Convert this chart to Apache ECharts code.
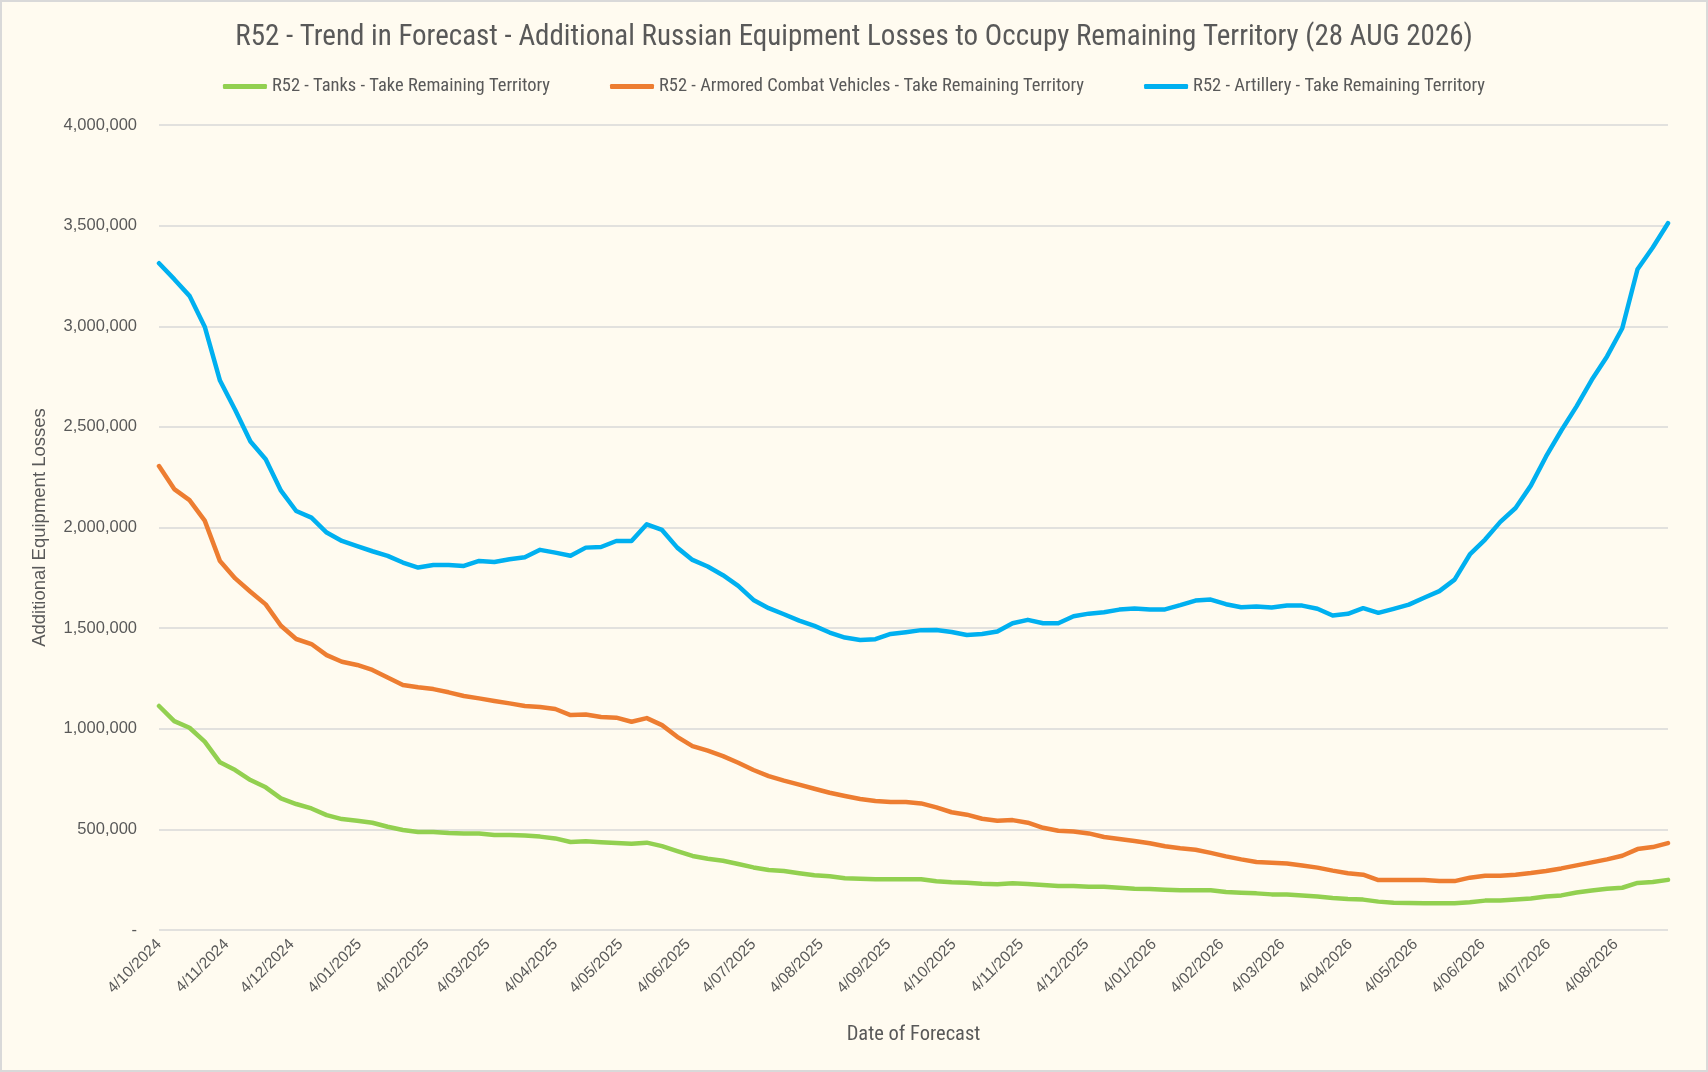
<!doctype html>
<html lang="en">
<head>
<meta charset="utf-8">
<title>R52 - Trend in Forecast</title>
<script src="https://cdn.jsdelivr.net/npm/echarts@6/dist/echarts.min.js"></script>
<style>
  html, body { margin: 0; padding: 0; background: #ffffff; }
  #main { width: 1704px; height: 1068px; border: 2px solid #d9d9d9; background: #fffbf0; }
</style>
</head>
<body>
<div id="main"></div>
<script type="text/javascript">
// weekly forecasts, first one on 4 Oct 2024, last on 28 Aug 2026
var firstForecast = '2024-10-04';
var lastForecast = '2026-08-28';

var monthLabels = ['4/10/2024', '4/11/2024', '4/12/2024', '4/01/2025', '4/02/2025', '4/03/2025',
  '4/04/2025', '4/05/2025', '4/06/2025', '4/07/2025', '4/08/2025', '4/09/2025', '4/10/2025',
  '4/11/2025', '4/12/2025', '4/01/2026', '4/02/2026', '4/03/2026', '4/04/2026', '4/05/2026',
  '4/06/2026', '4/07/2026', '4/08/2026'];

var seriesNames = ['R52 - Tanks - Take Remaining Territory',
  'R52 - Armored Combat Vehicles - Take Remaining Territory',
  'R52 - Artillery - Take Remaining Territory'];

var tanks = [1113000, 1038000, 1005000, 936000, 833000, 795000, 745000, 709000, 654000, 626000,
  604000, 571000, 551000, 543000, 533000, 513000, 497000, 487000, 487000, 482000,
  480000, 480000, 472000, 472000, 469000, 464000, 455000, 437000, 441000, 436000,
  432000, 429000, 434000, 417000, 392000, 368000, 354000, 344000, 328000, 311000,
  298000, 293000, 282000, 272000, 267000, 257000, 255000, 252000, 252000, 252000,
  252000, 242000, 237000, 235000, 230000, 227000, 232000, 229000, 224000, 219000,
  219000, 215000, 215000, 210000, 205000, 204000, 200000, 197000, 197000, 197000,
  189000, 185000, 182000, 177000, 176000, 171000, 166000, 159000, 154000, 151000,
  141000, 136000, 134000, 133000, 133000, 133000, 138000, 146000, 147000, 152000,
  157000, 166000, 172000, 186000, 196000, 205000, 210000, 234000, 239000, 249000];

var acv = [2305000, 2191000, 2136000, 2034000, 1833000, 1747000, 1681000, 1618000, 1512000, 1446000,
  1421000, 1366000, 1333000, 1317000, 1292000, 1255000, 1217000, 1206000, 1197000, 1181000,
  1163000, 1151000, 1138000, 1126000, 1113000, 1108000, 1098000, 1068000, 1071000, 1058000,
  1055000, 1035000, 1053000, 1018000, 960000, 914000, 891000, 864000, 831000, 795000,
  765000, 742000, 722000, 702000, 682000, 666000, 651000, 641000, 636000, 636000,
  629000, 609000, 585000, 573000, 553000, 543000, 546000, 533000, 508000, 493000,
  489000, 480000, 462000, 452000, 442000, 431000, 416000, 406000, 399000, 383000,
  366000, 351000, 338000, 334000, 330000, 321000, 310000, 295000, 282000, 275000,
  248000, 248000, 248000, 248000, 243000, 243000, 260000, 270000, 270000, 275000,
  283000, 293000, 306000, 321000, 336000, 351000, 369000, 402000, 412000, 432000];

var artillery = [3313000, 3234000, 3151000, 2998000, 2730000, 2584000, 2427000, 2339000, 2183000, 2082000,
  2049000, 1975000, 1933000, 1907000, 1882000, 1859000, 1826000, 1801000, 1814000, 1814000,
  1809000, 1834000, 1829000, 1842000, 1852000, 1889000, 1875000, 1860000, 1900000, 1903000,
  1933000, 1933000, 2016000, 1988000, 1900000, 1839000, 1806000, 1763000, 1710000, 1640000,
  1599000, 1569000, 1537000, 1511000, 1478000, 1453000, 1441000, 1445000, 1471000, 1480000,
  1490000, 1491000, 1481000, 1466000, 1471000, 1483000, 1524000, 1541000, 1524000, 1524000,
  1559000, 1572000, 1579000, 1592000, 1597000, 1592000, 1593000, 1614000, 1637000, 1642000,
  1619000, 1604000, 1608000, 1603000, 1612000, 1612000, 1596000, 1563000, 1571000, 1599000,
  1576000, 1596000, 1617000, 1651000, 1684000, 1741000, 1866000, 1940000, 2028000, 2097000,
  2208000, 2353000, 2482000, 2602000, 2734000, 2850000, 2990000, 3283000, 3391000, 3512000];

var colors = ['#92d050', '#ed7d31', '#00b0f0'];

// daily category axis so the month labels sit on the 4th like the Excel date axis
function fmtDay(d) {
  var m = d.getUTCMonth() + 1;
  return d.getUTCDate() + '/' + (m < 10 ? '0' + m : m) + '/' + d.getUTCFullYear();
}
var days = [];
var t0 = Date.parse(firstForecast + 'T00:00:00Z');
var t1 = Date.parse(lastForecast + 'T00:00:00Z');
for (var t = t0; t <= t1; t += 86400000) {
  days.push(fmtDay(new Date(t)));
}

function onDays(weekly) {
  var out = days.map(function () { return null; });
  weekly.forEach(function (v, i) { out[i * 7] = v; });
  return out;
}

var narrow = "'Liberation Sans Narrow', 'Roboto Condensed', 'Liberation Sans', sans-serif";
var plain = "'Liberation Sans', Arial, sans-serif";

var chart = echarts.init(document.getElementById('main'));
var option = {
  backgroundColor: '#fffbf0',
  animation: false,
  color: colors,
  title: {
    text: 'R52 - Trend in Forecast - Additional Russian Equipment Losses to Occupy Remaining Territory (28 AUG 2026)',
    left: 'center',
    top: 16,
    textStyle: { fontFamily: narrow, fontSize: 29, fontWeight: 'normal', color: '#595959' }
  },
  legend: {
    top: 70,
    left: 'center',
    icon: 'roundRect',
    itemWidth: 44,
    itemHeight: 5,
    itemGap: 60,
    textStyle: { fontFamily: narrow, fontSize: 18.5, color: '#595959' },
    data: seriesNames
  },
  grid: { left: 157, right: 38, top: 123, bottom: 140 },
  xAxis: {
    type: 'category',
    data: days,
    boundaryGap: false,
    name: 'Date of Forecast',
    nameLocation: 'middle',
    nameGap: 94,
    nameTextStyle: { fontFamily: narrow, fontSize: 20.5, color: '#595959' },
    axisLine: { show: false },
    axisTick: { show: false },
    axisLabel: {
      interval: function (idx, val) { return monthLabels.indexOf(val) >= 0; },
      rotate: 45,
      margin: 12,
      fontFamily: plain,
      fontSize: 15.5,
      color: '#595959'
    },
    splitLine: { show: false }
  },
  yAxis: {
    type: 'value',
    min: 0,
    max: 4000000,
    interval: 500000,
    name: 'Additional Equipment Losses',
    nameLocation: 'middle',
    nameRotate: 90,
    nameGap: 110,
    nameTextStyle: { fontFamily: plain, fontSize: 18.5, color: '#595959' },
    axisLine: { show: false },
    axisTick: { show: false },
    axisLabel: {
      margin: 22,
      fontFamily: plain,
      fontSize: 16.5,
      color: '#595959',
      formatter: function (v) { return v === 0 ? '-' : v.toLocaleString('en-US'); }
    },
    splitLine: { lineStyle: { color: '#d9d9d9', width: 1.5 } }
  },
  series: [tanks, acv, artillery].map(function (vals, k) {
    return {
      name: seriesNames[k],
      type: 'line',
      data: onDays(vals),
      connectNulls: true,
      showSymbol: false,
      symbol: 'none',
      lineStyle: { width: 4.5, color: colors[k], cap: 'round', join: 'round' },
      itemStyle: { color: colors[k] }
    };
  })
};
chart.setOption(option);
</script>
</body>
</html>
